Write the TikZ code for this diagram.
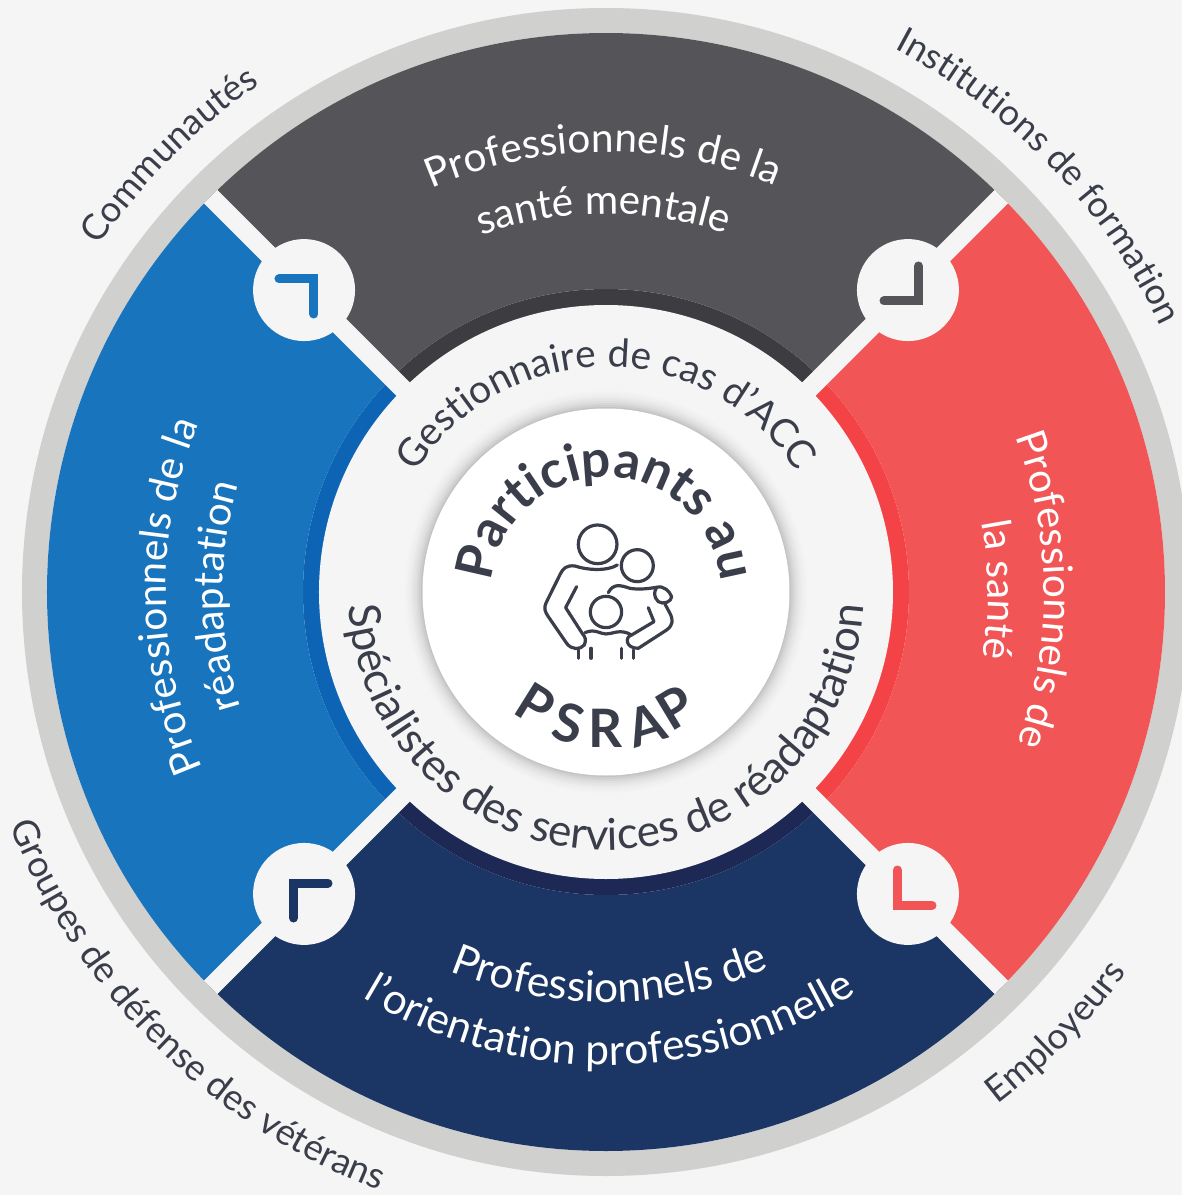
\documentclass[tikz,border=0pt]{standalone}
\usepackage{fontspec}
\setmainfont{Lato}
\usetikzlibrary{decorations.text}
\definecolor{fondo}{HTML}{F5F5F5}
\definecolor{aro}{HTML}{D0D0CE}
\definecolor{gris}{HTML}{555559}
\definecolor{grisosc}{HTML}{3C3C41}
\definecolor{azul}{HTML}{1874BC}
\definecolor{azulosc}{HTML}{0E64B4}
\definecolor{rojo}{HTML}{F25555}
\definecolor{rojoosc}{HTML}{F44347}
\definecolor{marino}{HTML}{1B3664}
\definecolor{marinoosc}{HTML}{1D2855}
\definecolor{tinta}{HTML}{3A3D4A}
\tikzset{
  curvo/.style n args={3}{decorate,decoration={text along path,text align=center,
    text color=#1,text={|\fontsize{#2}{#2}\selectfont|#3}}},
  curvob/.style n args={3}{decorate,decoration={text along path,text align=center,
    text color=#1,text={|\fontsize{#2}{#2}\selectfont\bfseries|#3}}},
  flechita/.style n args={1}{draw=#1,line width=9pt,line cap=round,miter limit=10},
  familia/.style={draw=tinta,line width=3.2pt,line cap=round,line join=round},
  letra/.style={text=tinta,inner sep=0pt,font=\fontsize{53}{53}\selectfont\bfseries}
}
\newcommand{\sector}[4]{% angulo inicial, angulo final, color, color oscuro
  \fill[#4] (#1:303) arc (#1:#2:303) -- (#2:0) -- cycle;
  \fill[#3] (#1:559) arc (#1:#2:559) -- (#2:303) arc (#2:#1:303) -- cycle;
}
\begin{document}
\begin{tikzpicture}[x=1pt,y=1pt]
\useasboundingbox (-606,-603) rectangle (576,592);
\fill[fondo] (-606,-603) rectangle (576,592); % fondo

\draw[aro,line width=25pt] (0,0) circle (571.5); % aro exterior

\sector{45}{135}{gris}{grisosc}
\sector{135}{225}{azul}{azulosc}
\sector{225}{315}{marino}{marinoosc}
\sector{-45}{45}{rojo}{rojoosc}

\foreach \ang in {45,135,225,315}{
  \draw[fondo,line width=19pt] (\ang:200) -- (\ang:559); % bandas
  \fill[fondo] (\ang:427) circle (51); % circulos
}
\fill[fondo] (0,0) circle (287); % disco claro

% sombra del disco central
\foreach \r/\p in {201/1,199/2,197/3,195/5,193/7,191/9,189/12,187/16,185/20}{
  \fill[black!\p!fondo] (0,0) circle (\r);
}
\fill[white] (0,0) circle (183.5); % disco blanco

% flechitas
\draw[flechita=azul,line join=miter] (-327,313) -- (-292,313) -- (-292,278);
\draw[flechita=gris,line join=miter] (278,291) -- (312.5,291) -- (312.5,326);
\draw[flechita=rojo,line join=miter] (291.5,-278) -- (291.5,-313.5) -- (326,-313.5);
\draw[flechita=marino,line join=miter] (-312.5,-326) -- (-312.5,-291) -- (-278,-291);

% textos sectores
\path[curvo={white}{40.5}{Professionnels de la}] (150.4:440) arc (150.4:30.4:440);
\path[curvo={white}{40.5}{santé mentale}] (150.4:378) arc (150.4:30.4:378);
\path[curvo={white}{40.5}{Professionnels de la}] (240.6:440) arc (240.6:120.6:440);
\path[curvo={white}{40.5}{réadaptation}] (240.6:383) arc (240.6:120.6:383);
\path[curvo={white}{40.5}{Professionnels de}] (60.3:438) arc (60.3:-59.7:438);
\path[curvo={white}{40.5}{la santé}] (60.3:382) arc (60.3:-59.7:382);
\path[curvo={white}{42.5}{Professionnels de}] (210.5:410) arc (210.5:330.5:410);
\path[curvo={white}{42.5}{l’orientation professionnelle}] (210.5:473) arc (210.5:330.5:473);

% textos disco claro
\path[curvo={tinta}{39}{Gestionnaire de cas d’ACC}] (170:225) arc (170:10:225);
\path[curvo={tinta}{44}{Spécialistes des services de réadaptation}] (170:258) arc (170:370:258);

% textos centro
\path[curvob={tinta}{51.5}{Participants au}] (178:115) arc (178:2:115);
\foreach \ltr/\ang/\rr in {P/238/133,S/254/136,R/270/136,A/287/139,P/301/135}{
  \node[letra,rotate=\ang-270] (psrap\ang) at (\ang:\rr) {\ltr};
}

% textos exteriores
\path[curvo={tinta}{36}{Communautés}] (165:614) arc (165:105:614);
\path[curvo={tinta}{36}{Institutions de formation}] (73.8:615) arc (73.8:13.8:615);
\path[curvo={tinta}{36.5}{Groupes de défense des vétérans}] (195.3:640) arc (195.3:255.3:640);
\path[curvo={tinta}{36}{Employeurs}] (285.6:645) arc (285.6:345.6:645);

% familia
\begin{scope}[shift={(-206,112)},x=0.3333pt,y=-0.3333pt]
\draw[familia] (593,193) circle (58);
\draw[familia] (712,257) circle (48);
\draw[familia] (618,396) circle (47);
\draw[familia] (652,255) .. controls (620,275) and (560,270) .. (525,258) .. controls (500,255) and (490,265) .. (482,280) -- (440,365) .. controls (430,385) and (435,395) .. (445,410) -- (500,490) .. controls (515,510) and (540,510) .. (553,495) .. controls (560,480) and (555,470) .. (548,462); % adulto
\draw[familia] (530,320) -- (497,383) -- (548,462); % brazo adulto
\draw[familia] (555,458) .. controls (585,445) and (600,462) .. (618,462) .. controls (640,462) and (660,445) .. (695,465); % hombros bebe
\draw[familia] (695,465) .. controls (675,470) and (675,505) .. (715,505) -- (800,450) .. controls (820,435) and (820,420) .. (810,400) -- (795,372); % brazo derecho
\draw[familia] (745,383) -- (762,425) -- (695,465); % brazo interior
\draw[familia] (625,338) .. controls (640,310) and (660,315) .. (690,325) .. controls (720,330) and (750,325) .. (770,322); % hombros nino
\draw[familia] (770,322) .. controls (790,315) and (810,335) .. (815,350) .. controls (815,365) and (790,375) .. (775,365) .. controls (760,350) and (762,335) .. (770,322); % mano
\foreach \xx/\yy in {536/510,573/505,664/505,701/510}{
  \draw[familia] (\xx,\yy) -- (\xx,535); % piernas
}
\end{scope}
\end{tikzpicture}
\end{document}
